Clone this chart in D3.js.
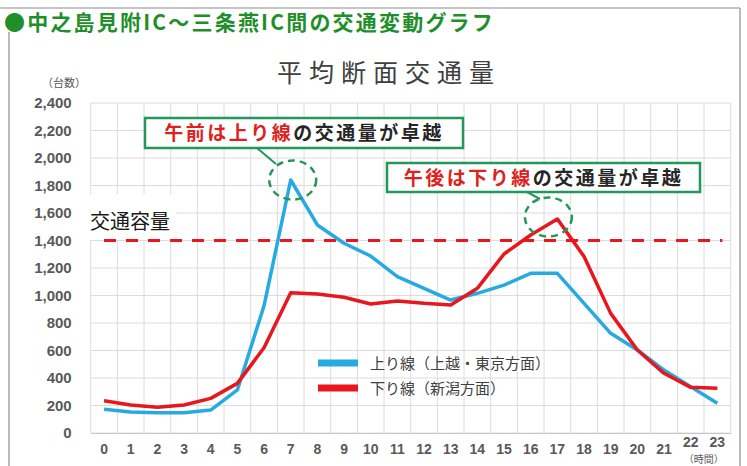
<!DOCTYPE html>
<html>
<head>
<meta charset="utf-8">
<script src="https://cdn.jsdelivr.net/npm/d3@7"></script>
<style>
  body { margin: 0; background: #fff; }
  text { font-family: "Noto Sans CJK JP", "Noto Sans", sans-serif; }
  .tick text { font-family: "Liberation Sans", Arial, sans-serif; font-weight: bold; fill: #595959; }
</style>
</head>
<body>
<div id="chart"></div>
<script>
// hours of the day (0-23)
const hours = d3.range(24);

// 上り線 (上越・東京方面) hourly volume
const upValues = [172, 153, 148, 148, 167, 313, 925, 1840, 1513, 1380, 1287, 1137,
  1052, 967, 1016, 1076, 1161, 1161, 943, 725, 604, 458, 337, 216];

// 下り線 (新潟方面) hourly volume
const downValues = [235, 204, 187, 204, 252, 361, 620, 1020, 1011, 987, 938, 960,
  943, 931, 1052, 1302, 1440, 1556, 1283, 870, 604, 434, 332, 325];

const yTicks = [0, 200, 400, 600, 800, 1000, 1200, 1400, 1600, 1800, 2000, 2200, 2400];
const capacity = 1400;

const seriesNames = ["上り線（上越・東京方面）", "下り線（新潟方面）"];
const seriesColors = ["#27a9e1", "#e8161d"];

const width = 747, height = 466;
const plot = { left: 90.7, right: 730.7, top: 103, bottom: 433 };

const svg = d3.select("#chart")
  .append("svg")
    .attr("width", width)
    .attr("height", height);

// outer frame
svg.append("line").attr("x1", 0).attr("x2", 740).attr("y1", 8).attr("y2", 8)
  .attr("stroke", "#8c8c8c").attr("stroke-width", 1.2);
svg.append("line").attr("x1", 740).attr("x2", 740).attr("y1", 8).attr("y2", height)
  .attr("stroke", "#8c8c8c").attr("stroke-width", 1.2);
svg.append("line").attr("x1", 9).attr("x2", 9).attr("y1", 32).attr("y2", height)
  .attr("stroke", "#8c8c8c").attr("stroke-width", 1.2);

// page heading
svg.append("text")
  .attr("x", 4).attr("y", 30)
  .attr("font-size", 21).attr("font-weight", "bold").attr("letter-spacing", 2.2)
  .attr("fill", "#1f8f2a")
  .text("●中之島見附IC～三条燕IC間の交通変動グラフ");

// chart title
svg.append("text")
  .attr("x", 277).attr("y", 82)
  .attr("font-size", 25).attr("letter-spacing", 7)
  .attr("fill", "#404040")
  .text("平均断面交通量");

// scales
const x = d3.scaleBand().domain(hours).range([plot.left, plot.right]);
const y = d3.scaleLinear().domain([0, 2400]).range([plot.bottom, plot.top]);
const cx = h => x(h) + x.bandwidth() / 2;

// grid
const grid = svg.append("g").attr("stroke", "#dcdcdc").attr("stroke-width", 1);
grid.selectAll(".gy").data(yTicks).join("line")
  .attr("x1", plot.left).attr("x2", plot.right)
  .attr("y1", d => y(d)).attr("y2", d => y(d));
grid.selectAll(".gx").data(hours.concat([24])).join("line")
  .attr("x1", d => plot.left + d * x.bandwidth())
  .attr("x2", d => plot.left + d * x.bandwidth())
  .attr("y1", plot.top).attr("y2", plot.bottom);

// axes
svg.append("g")
  .attr("transform", "translate(" + plot.left + ",0)")
  .call(d3.axisLeft(y).tickValues(yTicks).tickFormat(d3.format(",")).tickSize(0).tickPadding(19))
  .call(g => g.select(".domain").remove())
  .selectAll("text").attr("font-size", 15);

svg.append("g")
  .attr("transform", "translate(0," + plot.bottom + ")")
  .call(d3.axisBottom(x).tickSize(0).tickPadding(11))
  .call(g => g.select(".domain").attr("stroke", "#c8c8c8"))
  .selectAll("text").attr("font-size", 14)
  .attr("dy", d => d >= 22 ? "0.2em" : "0.71em");

svg.append("text")
  .attr("x", 64).attr("y", 87).attr("text-anchor", "middle")
  .attr("font-size", 11).attr("fill", "#595959")
  .text("（台数）");
svg.append("text")
  .attr("x", cx(22) + 13).attr("y", 463).attr("text-anchor", "middle")
  .attr("font-size", 10).attr("fill", "#595959")
  .text("（時間）");

// capacity label with white backing
svg.append("rect")
  .attr("x", 88).attr("y", 194).attr("width", 88).attr("height", 46)
  .attr("fill", "#fff");
svg.append("text")
  .attr("x", 90).attr("y", 229)
  .attr("font-size", 20).attr("fill", "#1a1a1a")
  .text("交通容量");

// capacity dashed line
svg.append("line")
  .attr("x1", cx(0)).attr("x2", cx(23) + 5)
  .attr("y1", y(capacity)).attr("y2", y(capacity))
  .attr("stroke", "#e8161d").attr("stroke-width", 3)
  .attr("stroke-dasharray", "12,10");

// series lines
const line = d3.line()
  .x((d, i) => cx(hours[i]))
  .y(d => y(d));

[upValues, downValues].forEach((vals, i) => {
  svg.append("path")
    .datum(vals)
    .attr("fill", "none")
    .attr("stroke", seriesColors[i])
    .attr("stroke-width", 3.5)
    .attr("stroke-linejoin", "round")
    .attr("d", line);
});

// legend
const legend = svg.append("g").attr("transform", "translate(318,363)");
seriesNames.forEach((name, i) => {
  legend.append("rect")
    .attr("x", 0).attr("y", i * 25 - 3.5)
    .attr("width", 40).attr("height", 7)
    .attr("fill", seriesColors[i]);
  legend.append("text")
    .attr("x", 52).attr("y", i * 25 + 5.5)
    .attr("font-size", 15).attr("fill", "#404040")
    .text(name);
});

// annotations
const green = "#23985a";
function callout(box, label, hour, value, dx, link) {
  const g = svg.append("g");
  g.append("line")
    .attr("x1", link[0]).attr("y1", link[1]).attr("x2", link[2]).attr("y2", link[3])
    .attr("stroke", green).attr("stroke-width", 2);
  g.append("ellipse")
    .attr("cx", cx(hour) + dx).attr("cy", y(value))
    .attr("rx", 23.5).attr("ry", 19.5)
    .attr("fill", "none").attr("stroke", green)
    .attr("stroke-width", 2.5).attr("stroke-dasharray", "7,5");
  g.append("rect")
    .attr("x", box[0]).attr("y", box[1]).attr("width", box[2]).attr("height", box[3])
    .attr("fill", "#fff").attr("stroke", green).attr("stroke-width", 2.5);
  const t = g.append("text")
    .attr("x", box[0] + box[2] / 2).attr("y", box[1] + box[3] / 2 + 7)
    .attr("text-anchor", "middle")
    .attr("font-size", 19).attr("font-weight", "bold").attr("letter-spacing", 2.5);
  t.append("tspan").attr("fill", "#e0201b").text(label[0]);
  t.append("tspan").attr("fill", "#262626").text(label[1]);
}

callout([145, 118, 318, 30], ["午前は上り線", "の交通量が卓越"], 7, upValues[7], 2, [257, 148, 276, 164]);
callout([387, 163, 313, 29], ["午後は下り線", "の交通量が卓越"], 17, downValues[17] + 15, -9, [527, 192, 540, 199]);
</script>
</body>
</html>
